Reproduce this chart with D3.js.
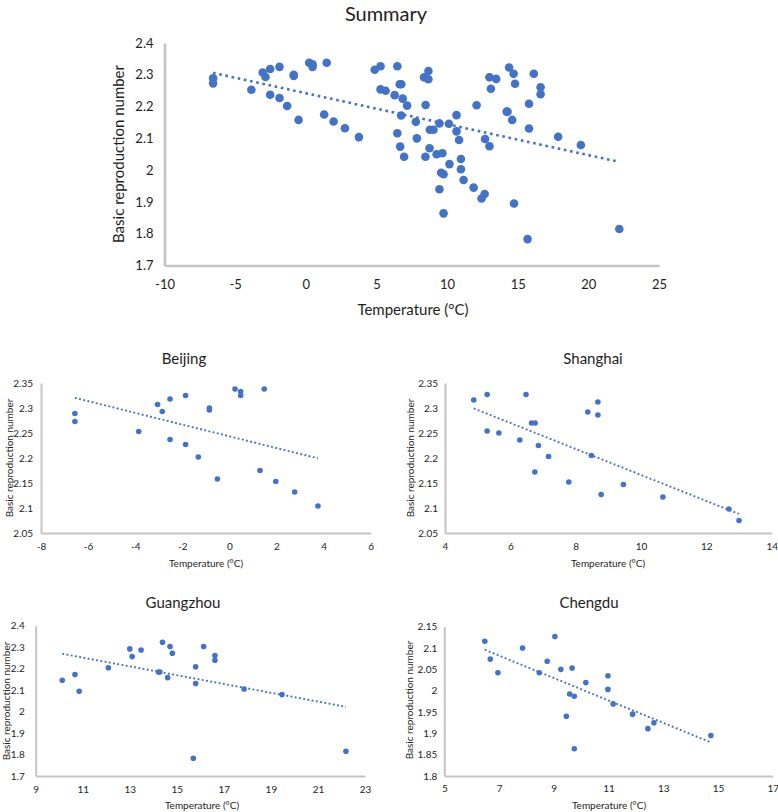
<!DOCTYPE html>
<html><head><meta charset="utf-8">
<script src="https://cdn.jsdelivr.net/npm/d3@7"></script>
<style>
html,body{margin:0;padding:0;background:#fff;}
svg{display:block;font-family:Lato,"Open Sans",sans-serif;}
</style></head>
<body>
<svg id="c" width="778" height="812"></svg>
<script>
// ---- data ----
const beijingTemp = [-6.56,-6.56,-3.85,-3.05,-2.85,-2.52,-2.52,-1.86,-1.86,-1.32,-0.85,-0.85,-0.51,0.24,0.48,0.48,1.48,1.30,1.97,2.77,3.76];
const beijingR    = [2.289,2.273,2.253,2.307,2.293,2.318,2.237,2.325,2.227,2.202,2.300,2.296,2.158,2.338,2.333,2.325,2.338,2.175,2.153,2.132,2.104];
const shanghaiTemp = [4.88,5.29,5.29,5.65,6.48,6.29,6.65,6.76,6.86,7.17,6.75,7.79,8.37,8.68,8.68,8.48,8.78,9.46,10.67,12.69,13.0];
const shanghaiR    = [2.316,2.327,2.254,2.250,2.327,2.236,2.270,2.270,2.225,2.203,2.172,2.152,2.292,2.312,2.286,2.205,2.127,2.147,2.122,2.098,2.075];
const guangzhouTemp = [10.13,10.67,10.85,12.09,13.0,13.10,13.48,14.22,14.28,14.39,14.61,14.71,14.81,15.80,15.80,15.70,16.14,16.62,16.62,17.86,19.47,22.19];
const guangzhouR    = [2.146,2.173,2.095,2.204,2.292,2.256,2.287,2.184,2.184,2.323,2.158,2.303,2.272,2.209,2.131,1.783,2.303,2.261,2.239,2.105,2.079,1.815];
const chengduTemp = [6.48,6.68,6.96,7.86,8.76,8.47,9.04,9.26,9.67,10.17,9.58,9.75,9.46,9.75,10.98,10.98,11.17,11.88,12.44,12.66,14.74];
const chengduR    = [2.116,2.074,2.042,2.100,2.069,2.042,2.127,2.050,2.053,2.019,1.992,1.987,1.940,1.864,2.035,2.003,1.969,1.945,1.911,1.925,1.895];
const summaryTemp = [].concat(beijingTemp, shanghaiTemp, guangzhouTemp, chengduTemp);
const summaryR    = [].concat(beijingR, shanghaiR, guangzhouR, chengduR);

const summaryXTicks = [-10,-5,0,5,10,15,20,25];
const summaryYTicks = [1.7,1.8,1.9,2.0,2.1,2.2,2.3,2.4];
const beijingXTicks = [-8,-6,-4,-2,0,2,4,6];
const shanghaiXTicks = [4,6,8,10,12,14];
const smallYTicks = [2.05,2.1,2.15,2.2,2.25,2.3,2.35];
const guangzhouXTicks = [9,11,13,15,17,19,21,23];
const guangzhouYTicks = [1.7,1.8,1.9,2.0,2.1,2.2,2.3,2.4];
const chengduXTicks = [5,7,9,11,13,15,17];
const chengduYTicks = [1.8,1.85,1.9,1.95,2.0,2.05,2.1,2.15];

const titles = ["Summary","Beijing","Shanghai","Guangzhou","Chengdu"];
const xTitle = "Temperature (\u00B0C)";
const yTitle = "Basic reproduction number";

// ---- drawing ----
const svg = d3.select("#c");
const BLUE = "#4472C4", AXIS = "#c4c4c4", TXT = "#1e1e1e";
const fmt = v => String(+v.toFixed(2));

function drawPanel(p, temps, rs) {
  const g = svg.append("g");
  const x = d3.scaleLinear().domain(p.xd).range(p.xr);
  const y = d3.scaleLinear().domain(p.yd).range(p.yr);

  const xa = g.append("g").attr("transform", `translate(0,${p.yr[0]})`)
    .call(d3.axisBottom(x).tickValues(p.xt).tickFormat(fmt).tickSize(0).tickSizeOuter(0).tickPadding(p.xpad));
  const ya = g.append("g").attr("transform", `translate(${p.xr[0]},0)`)
    .call(d3.axisLeft(y).tickValues(p.yt).tickFormat(fmt).tickSize(0).tickSizeOuter(0).tickPadding(p.ypad));
  [xa, ya].forEach(a => {
    a.select(".domain").attr("stroke", AXIS).attr("stroke-width", p.aw);
    a.selectAll("text").attr("font-size", p.tf).attr("fill", TXT).attr("font-family", "Lato");
  });

  // trendline (least squares)
  const n = temps.length;
  const mx = d3.mean(temps), my = d3.mean(rs);
  let sxy = 0, sxx = 0;
  for (let i = 0; i < n; i++) { sxy += (temps[i]-mx)*(rs[i]-my); sxx += (temps[i]-mx)**2; }
  const b = sxy / sxx, a0 = my - b*mx;
  const [t0, t1] = d3.extent(temps);

  g.append("g").selectAll("circle").data(d3.range(n)).join("circle")
    .attr("cx", i => x(temps[i])).attr("cy", i => y(rs[i])).attr("r", p.r).attr("fill", BLUE);

  g.append("line")
    .attr("x1", x(t0)).attr("y1", y(a0 + b*t0))
    .attr("x2", x(t1)).attr("y2", y(a0 + b*t1))
    .attr("stroke", BLUE).attr("stroke-width", p.lw)
    .attr("stroke-dasharray", p.dash);

  g.append("text").attr("x", p.title[0]).attr("y", p.title[1]).attr("dy", "0.35em")
    .attr("text-anchor", "middle").attr("font-size", p.titleF).attr("font-weight", 400)
    .attr("fill", TXT).text(p.name);
  g.append("text").attr("x", p.xl[0]).attr("y", p.xl[1]).attr("dy", "0.35em")
    .attr("text-anchor", "middle").attr("font-size", p.lf).attr("fill", TXT).text(xTitle);
  g.append("text").attr("transform", `translate(${p.yl[0]},${p.yl[1]}) rotate(-90)`).attr("dy", "0.35em")
    .attr("text-anchor", "middle").attr("font-size", p.lf).attr("fill", TXT).text(yTitle);
}

drawPanel({name: titles[0], xd: [-10,25], xr: [164.5,659], yd: [1.7,2.4], yr: [265.5,43],
  xt: summaryXTicks, yt: summaryYTicks, xpad: 14, ypad: 11, aw: 2.7, tf: 13, r: 4.3, lw: 2.6, dash: "2.6 3.7",
  title: [386, 14], titleF: 20, xl: [413, 310], yl: [119, 154], lf: 15}, summaryTemp, summaryR);

drawPanel({name: titles[1], xd: [-8,6], xr: [41,370.7], yd: [2.05,2.35], yr: [533,383],
  xt: beijingXTicks, yt: smallYTicks, xpad: 10, ypad: 8, aw: 2, tf: 10, r: 2.8, lw: 1.9, dash: "1.9 2.4",
  title: [184, 359], titleF: 15, xl: [206, 563], yl: [9, 458], lf: 10}, beijingTemp, beijingR);

drawPanel({name: titles[2], xd: [4,14], xr: [445,771.7], yd: [2.05,2.35], yr: [533,383],
  xt: shanghaiXTicks, yt: smallYTicks, xpad: 10, ypad: 7, aw: 2, tf: 10, r: 2.8, lw: 1.9, dash: "1.9 2.4",
  title: [593, 359], titleF: 15, xl: [608, 563], yl: [410.7, 458], lf: 10}, shanghaiTemp, shanghaiR);

drawPanel({name: titles[3], xd: [9,23], xr: [35.7,365], yd: [1.7,2.4], yr: [776,625.7],
  xt: guangzhouXTicks, yt: guangzhouYTicks, xpad: 10, ypad: 11, aw: 2, tf: 10, r: 2.8, lw: 1.9, dash: "1.9 2.4",
  title: [183, 602.7], titleF: 15, xl: [202, 805.7], yl: [6.5, 701], lf: 10}, guangzhouTemp, guangzhouR);

drawPanel({name: titles[4], xd: [5,17], xr: [444.3,772.7], yd: [1.8,2.15], yr: [776,626.7],
  xt: chengduXTicks, yt: chengduYTicks, xpad: 9, ypad: 7, aw: 2, tf: 10, r: 2.8, lw: 1.9, dash: "1.9 2.4",
  title: [589, 602.7], titleF: 15, xl: [609, 805.7], yl: [409.3, 700], lf: 10}, chengduTemp, chengduR);
</script>
</body></html>
